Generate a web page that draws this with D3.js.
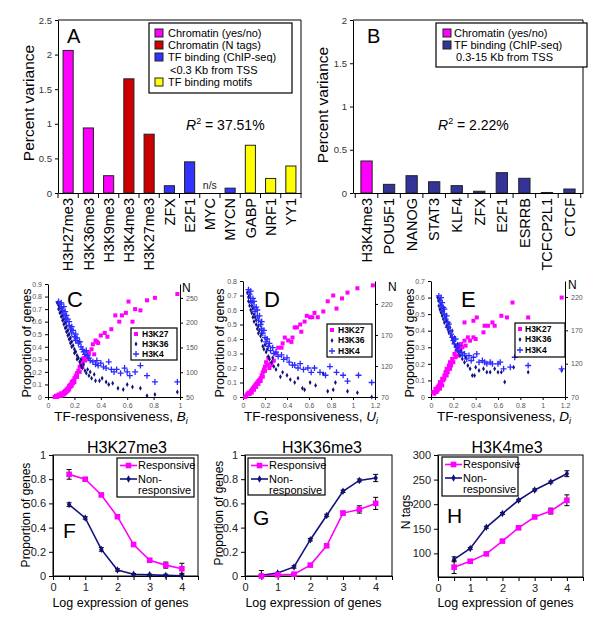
<!DOCTYPE html>
<html><head><meta charset="utf-8">
<script src="https://cdn.jsdelivr.net/npm/d3@7"></script>
<style>body{margin:0;background:#fff} text{font-family:"Liberation Sans",Arial,sans-serif}</style>
</head><body><svg id="c" width="600" height="626"></svg>
<script>
// ---------- Panel A ----------
const aCategories = ["H3H27me3","H3K36me3","H3K9me3","H3K4me3","H3K27me3","ZFX","E2F1","MYC","MYCN","GABP","NRF1","YY1"];
const aValues = [2.06,0.94,0.25,1.65,0.85,0.105,0.45,null,0.07,0.69,0.21,0.39];
const aGroups = [0,0,0,1,1,2,2,2,2,3,3,3];
const aLegend = ["Chromatin (yes/no)","Chromatin (N tags)","TF binding (ChIP-seq)","TF binding motifs"];
const aYTicks = [0,0.5,1,1.5,2,2.5];
// ---------- Panel B ----------
const bCategories = ["H3K4me3","POU5F1","NANOG","STAT3","KLF4","ZFX","E2F1","ESRRB","TCFCP2L1","CTCF"];
const bValues = [0.37,0.10,0.20,0.13,0.085,0.02,0.235,0.17,0.006,0.046];
const bGroups = [0,1,1,1,1,1,1,1,1,1];
const bLegend = ["Chromatin (yes/no)","TF binding (ChIP-seq)"];
const bYTicks = [0,0.5,1,1.5,2];
// ---------- Scatter C (x = B_i) ----------
const cK27 = [[0.05,0.00],[0.06,0.01],[0.07,0.00],[0.08,0.02],[0.09,0.01],[0.10,0.03],[0.10,0.01],[0.11,0.02],[0.12,0.04],[0.12,0.02],[0.13,0.05],[0.13,0.03],[0.14,0.06],[0.14,0.04],[0.15,0.07],[0.15,0.05],[0.16,0.09],[0.16,0.06],[0.17,0.10],[0.17,0.08],[0.18,0.12],[0.18,0.09],[0.19,0.13],[0.19,0.11],[0.20,0.15],[0.20,0.12],[0.21,0.17],[0.22,0.19],[0.22,0.16],[0.23,0.21],[0.24,0.24],[0.24,0.20],[0.25,0.26],[0.26,0.28],[0.26,0.24],[0.27,0.31],[0.28,0.29],[0.29,0.33],[0.30,0.31],[0.31,0.35],[0.33,0.38],[0.35,0.34],[0.34,0.42],[0.36,0.45],[0.38,0.43],[0.40,0.49],[0.43,0.51],[0.45,0.48],[0.48,0.54],[0.37,0.44],[0.51,0.65],[0.54,0.60],[0.56,0.65],[0.59,0.67],[0.61,0.76],[0.64,0.60],[0.66,0.70],[0.70,0.69],[0.75,0.77],[0.81,0.79],[0.98,0.82]];
const cK36 = [[0.07,0.75],[0.08,0.73],[0.08,0.70],[0.09,0.71],[0.09,0.67],[0.10,0.68],[0.10,0.64],[0.11,0.65],[0.11,0.61],[0.12,0.62],[0.12,0.58],[0.13,0.59],[0.13,0.55],[0.14,0.56],[0.14,0.52],[0.15,0.53],[0.15,0.49],[0.16,0.50],[0.16,0.46],[0.17,0.47],[0.17,0.43],[0.18,0.44],[0.18,0.40],[0.19,0.41],[0.20,0.38],[0.20,0.35],[0.21,0.36],[0.22,0.33],[0.22,0.30],[0.23,0.31],[0.24,0.28],[0.25,0.30],[0.25,0.25],[0.26,0.23],[0.27,0.26],[0.28,0.21],[0.29,0.19],[0.30,0.22],[0.31,0.17],[0.32,0.20],[0.33,0.15],[0.35,0.18],[0.36,0.13],[0.39,0.13],[0.41,0.15],[0.44,0.12],[0.46,0.10],[0.49,0.11],[0.53,0.07],[0.57,0.06],[0.60,0.10],[0.64,0.08],[0.70,0.07],[0.75,0.01],[0.81,0.02],[0.98,0.04]];
const cK4 = [[0.08,0.76],[0.09,0.74],[0.10,0.71],[0.10,0.75],[0.11,0.69],[0.12,0.72],[0.12,0.66],[0.13,0.68],[0.13,0.63],[0.14,0.65],[0.14,0.60],[0.15,0.62],[0.16,0.57],[0.16,0.60],[0.17,0.54],[0.18,0.56],[0.18,0.51],[0.19,0.53],[0.20,0.48],[0.21,0.50],[0.21,0.45],[0.22,0.47],[0.23,0.43],[0.24,0.44],[0.25,0.40],[0.26,0.38],[0.27,0.36],[0.28,0.34],[0.29,0.37],[0.30,0.33],[0.31,0.31],[0.32,0.29],[0.34,0.28],[0.36,0.26],[0.37,0.29],[0.38,0.25],[0.40,0.27],[0.42,0.24],[0.44,0.23],[0.46,0.28],[0.48,0.22],[0.50,0.20],[0.52,0.22],[0.55,0.19],[0.58,0.23],[0.60,0.20],[0.62,0.17],[0.66,0.20],[0.70,0.25],[0.75,0.17],[0.81,0.12],[0.98,0.12]];
const cXTicks = [0,0.2,0.4,0.6,0.8,1];
const cYTicks = [0,0.1,0.2,0.3,0.4,0.5,0.6,0.7,0.8,0.9];
const cNTicks = [50,100,150,200,250];
// ---------- Scatter D (x = U_i) ----------
const dK27 = [[0.02,0.00],[0.03,0.01],[0.04,0.02],[0.05,0.03],[0.06,0.02],[0.07,0.04],[0.08,0.05],[0.08,0.03],[0.09,0.06],[0.10,0.07],[0.10,0.05],[0.11,0.08],[0.12,0.09],[0.12,0.07],[0.13,0.10],[0.14,0.11],[0.14,0.09],[0.15,0.12],[0.16,0.13],[0.16,0.11],[0.17,0.15],[0.18,0.17],[0.18,0.14],[0.19,0.19],[0.20,0.21],[0.20,0.18],[0.21,0.24],[0.22,0.22],[0.23,0.27],[0.24,0.20],[0.25,0.23],[0.26,0.22],[0.28,0.25],[0.30,0.30],[0.32,0.34],[0.35,0.34],[0.36,0.37],[0.38,0.41],[0.41,0.39],[0.44,0.38],[0.45,0.41],[0.47,0.48],[0.49,0.48],[0.52,0.50],[0.53,0.45],[0.56,0.52],[0.58,0.56],[0.61,0.55],[0.63,0.55],[0.65,0.58],[0.68,0.55],[0.73,0.59],[0.77,0.66],[0.82,0.70],[0.85,0.61],[0.90,0.68],[0.95,0.72],[1.04,0.75],[1.18,0.77]];
const dK36 = [[0.04,0.72],[0.05,0.69],[0.05,0.66],[0.06,0.70],[0.06,0.63],[0.07,0.66],[0.07,0.60],[0.08,0.63],[0.08,0.58],[0.09,0.61],[0.09,0.55],[0.10,0.57],[0.10,0.52],[0.11,0.55],[0.12,0.50],[0.12,0.53],[0.13,0.47],[0.14,0.49],[0.14,0.44],[0.15,0.46],[0.16,0.42],[0.17,0.44],[0.17,0.39],[0.18,0.35],[0.19,0.33],[0.20,0.36],[0.21,0.31],[0.22,0.33],[0.23,0.28],[0.24,0.26],[0.26,0.24],[0.27,0.27],[0.28,0.21],[0.30,0.19],[0.32,0.22],[0.34,0.14],[0.36,0.17],[0.40,0.15],[0.43,0.12],[0.47,0.10],[0.50,0.13],[0.54,0.06],[0.56,0.05],[0.61,0.10],[0.66,0.08],[0.73,0.16],[0.77,0.04],[0.82,0.05],[0.84,0.10],[0.95,0.04],[1.04,0.03],[1.17,0.00]];
const dK4 = [[0.05,0.74],[0.06,0.71],[0.07,0.68],[0.07,0.73],[0.08,0.65],[0.09,0.68],[0.10,0.62],[0.10,0.66],[0.11,0.59],[0.12,0.62],[0.13,0.56],[0.13,0.60],[0.14,0.53],[0.15,0.56],[0.16,0.50],[0.17,0.47],[0.17,0.52],[0.18,0.44],[0.19,0.46],[0.20,0.41],[0.21,0.38],[0.22,0.40],[0.23,0.35],[0.24,0.37],[0.25,0.32],[0.27,0.34],[0.28,0.30],[0.30,0.31],[0.32,0.28],[0.35,0.29],[0.37,0.26],[0.40,0.27],[0.42,0.24],[0.45,0.22],[0.47,0.22],[0.50,0.20],[0.52,0.23],[0.55,0.19],[0.59,0.20],[0.62,0.17],[0.65,0.20],[0.70,0.17],[0.75,0.15],[0.79,0.21],[0.85,0.17],[0.91,0.15],[0.95,0.11],[1.05,0.15],[1.17,0.10]];
const dXTicks = [0,0.2,0.4,0.6,0.8,1,1.2];
const dYTicks = [0,0.1,0.2,0.3,0.4,0.5,0.6,0.7,0.8];
const dNTicks = [70,120,170,220];
// ---------- Scatter E (x = D_i) ----------
const eK27 = [[0.02,0.03],[0.03,0.02],[0.04,0.05],[0.05,0.03],[0.06,0.06],[0.06,0.04],[0.07,0.07],[0.08,0.05],[0.08,0.09],[0.09,0.08],[0.10,0.11],[0.10,0.07],[0.11,0.10],[0.12,0.13],[0.12,0.11],[0.13,0.15],[0.14,0.13],[0.14,0.17],[0.15,0.15],[0.16,0.19],[0.17,0.17],[0.17,0.21],[0.18,0.19],[0.19,0.23],[0.20,0.21],[0.21,0.26],[0.22,0.24],[0.23,0.28],[0.24,0.25],[0.25,0.30],[0.26,0.28],[0.27,0.32],[0.28,0.30],[0.30,0.34],[0.31,0.31],[0.33,0.36],[0.35,0.34],[0.38,0.36],[0.40,0.35],[0.30,0.45],[0.38,0.46],[0.41,0.48],[0.47,0.39],[0.48,0.43],[0.51,0.43],[0.55,0.45],[0.57,0.43],[0.63,0.49],[0.68,0.48],[0.73,0.57],[0.87,0.48],[1.17,0.60]];
const eK36 = [[0.06,0.60],[0.07,0.58],[0.07,0.55],[0.08,0.59],[0.08,0.53],[0.09,0.56],[0.09,0.51],[0.10,0.54],[0.10,0.49],[0.11,0.52],[0.11,0.47],[0.12,0.50],[0.12,0.45],[0.13,0.48],[0.14,0.43],[0.14,0.46],[0.15,0.41],[0.16,0.44],[0.16,0.39],[0.17,0.42],[0.18,0.37],[0.19,0.40],[0.19,0.35],[0.20,0.33],[0.21,0.36],[0.22,0.31],[0.23,0.29],[0.24,0.32],[0.25,0.27],[0.26,0.25],[0.27,0.28],[0.28,0.23],[0.30,0.21],[0.31,0.24],[0.33,0.19],[0.35,0.17],[0.37,0.13],[0.39,0.13],[0.40,0.18],[0.43,0.16],[0.47,0.17],[0.50,0.15],[0.53,0.15],[0.57,0.17],[0.60,0.15],[0.63,0.15],[0.66,0.09],[0.74,0.18],[0.87,0.15],[1.17,0.16]];
const eK4 = [[0.07,0.61],[0.08,0.58],[0.09,0.60],[0.09,0.55],[0.10,0.57],[0.10,0.52],[0.11,0.54],[0.12,0.50],[0.12,0.53],[0.13,0.47],[0.14,0.49],[0.15,0.45],[0.15,0.42],[0.16,0.44],[0.17,0.40],[0.18,0.38],[0.19,0.36],[0.20,0.34],[0.21,0.32],[0.22,0.35],[0.23,0.30],[0.24,0.28],[0.25,0.31],[0.27,0.27],[0.28,0.25],[0.30,0.26],[0.32,0.23],[0.34,0.25],[0.36,0.22],[0.38,0.24],[0.41,0.26],[0.43,0.21],[0.46,0.22],[0.48,0.21],[0.50,0.20],[0.53,0.21],[0.55,0.20],[0.60,0.20],[0.62,0.21],[0.65,0.17],[0.71,0.18],[0.75,0.24],[0.87,0.19],[1.17,0.17]];
const eXTicks = [0,0.2,0.4,0.6,0.8,1,1.2];
const eYTicks = [0,0.1,0.2,0.3,0.4,0.5,0.6,0.7];
const eNTicks = [70,120,170,220];
const scatterLegend = ["H3K27","H3K36","H3K4"];
// ---------- Line panels F, G, H ----------
const logExpr = [0.5,1,1.5,2,2.5,3,3.5,4];
const lineXTicks = [0,0.5,1,1.5,2,2.5,3,3.5,4,4.5];
const fResp = [0.84,0.80,0.67,0.49,0.26,0.13,0.09,0.06];
const fRespErr = [0.04,0.01,0.01,0.01,0.01,0.015,0.025,0.045];
const fNon = [0.59,0.48,0.22,0.05,0.015,0.01,0.005,0.002];
const fNonErr = [0.015,0.01,0.015,0.01,0.005,0.005,0.01,0.02];
const gResp = [0.00,0.01,0.015,0.09,0.25,0.52,0.55,0.60];
const gRespErr = [0.01,0.005,0.005,0.01,0.01,0.015,0.03,0.05];
const gNon = [0.005,0.025,0.075,0.30,0.50,0.70,0.79,0.81];
const gNonErr = [0.04,0.005,0.01,0.01,0.01,0.01,0.012,0.03];
const hResp = [72,84,99,125,152,174,186,208];
const hRespErr = [13,3,2,2,2,3,6,11];
const hNon = [88,110,153,181,208,229,245,262];
const hNonErr = [5,2,2,2,2,2,2,6];
const propTicks = [0,0.2,0.4,0.6,0.8,1];
const tagTicks = [100,150,200,250,300];

const FONT = '"Liberation Sans", Arial, sans-serif';
const MAG = "#ff00ff", NAVY = "#12127e", BLUE = "#2a2aff";
const svg = d3.select("#c");
svg.append("rect").attr("width",600).attr("height",626).attr("fill","#fff");

function styleAxis(sel, fs, fill){
  sel.attr("font-family",FONT);
  sel.select(".domain").attr("stroke","#000");
  sel.selectAll(".tick line").attr("stroke","#000");
  sel.selectAll(".tick text").attr("font-size",fs).attr("fill",fill);
}

// ================= BAR PANELS =================
function barPanel(c){
  const x = d3.scaleBand().domain(c.cats).range([c.x0,c.x1]).paddingInner(0.5).paddingOuter(c.po);
  const y = d3.scaleLinear().domain([0,c.ymax]).range([193,20]);
  const g = svg.append("g");
  g.append("path").attr("d",`M${c.x0},20H${c.x1}V193`).attr("fill","none").attr("stroke","#000");
  const data = c.cats.map((k,i)=>({k,v:c.vals[i],grp:c.groups[i]}));
  g.selectAll("rect.bar").data(data.filter(d=>d.v!=null)).join("rect")
    .attr("x",d=>x(d.k)).attr("width",x.bandwidth())
    .attr("y",d=>y(d.v)).attr("height",d=>y(0)-y(d.v))
    .attr("fill",d=>c.colors[d.grp]).attr("stroke","#222").attr("stroke-width",1);
  data.filter(d=>d.v==null).forEach(d=>{
    g.append("text").attr("x",x(d.k)+x.bandwidth()/2).attr("y",y(0)-4).attr("text-anchor","middle")
     .attr("font-size",10.5).attr("fill","#222").text("n/s");
  });
  g.append("g").attr("transform","translate("+c.x0+",0)")
   .call(d3.axisLeft(y).tickValues(c.yticks).tickSize(3).tickSizeOuter(0).tickFormat(d3.format("~g")))
   .call(s=>styleAxis(s,9.5,"#333"));
  const xa = g.append("g").attr("transform","translate(0,193)")
   .call(d3.axisBottom(x).tickSize(0).tickSizeOuter(0));
  styleAxis(xa,14.5,"#000");
  xa.selectAll(".tick text").attr("transform","rotate(-90)").attr("x",-5).attr("y",0)
    .attr("dy","0.36em").attr("text-anchor","end");
  const gap = x.step()-x.bandwidth();
  const bounds = c.cats.map(k=>x(k)-gap/2).concat([x(c.cats[c.cats.length-1])+x.bandwidth()+gap/2]);
  g.selectAll("line.bt").data(bounds).join("line").attr("x1",d=>d).attr("x2",d=>d)
   .attr("y1",193).attr("y2",198).attr("stroke","#000");
  g.append("text").attr("transform",`translate(${c.ylx},${c.yly}) rotate(-90)`).attr("text-anchor","middle")
   .attr("dy","0.35em").attr("font-size",15.5).text("Percent variance");
  g.append("text").attr("x",c.lx).attr("y",43).attr("font-size",20).text(c.letter);
  const r = g.append("text").attr("x",c.rx).attr("y",130).attr("font-size",14);
  r.append("tspan").attr("font-style","italic").text("R");
  r.append("tspan").attr("font-size",9).attr("dy",-6).text("2");
  r.append("tspan").attr("dy",6).text(" = "+c.r2);
  const L = c.legend;
  g.append("rect").attr("x",L.x0).attr("y",L.y0).attr("width",L.x1-L.x0).attr("height",L.y1-L.y0)
   .attr("fill","#fff").attr("stroke","#000").attr("stroke-width",1.2);
  L.rows.forEach(row=>{
    if(row.color!=null){
      g.append("rect").attr("x",L.sx).attr("y",row.y-4).attr("width",8).attr("height",8)
       .attr("fill",c.colors[row.color]).attr("stroke","#222");
    }
    g.append("text").attr("x",row.color!=null?L.tx:L.tx+2).attr("y",row.y).attr("dy","0.35em")
     .attr("font-size",11).text(row.text);
  });
}

const aColors = ["#ff00ff","#cc0000","#3333ff","#ffff00"];
barPanel({cats:aCategories, vals:aValues, groups:aGroups, colors:aColors, x0:58, x1:301, po:0.25,
  ymax:2.5, yticks:aYTicks, ylx:29, yly:103, lx:67, letter:"A", rx:186, r2:"37.51%",
  legend:{x0:149,y0:23,x1:292,y1:93,sx:155,tx:168,rows:[
    {color:0,text:aLegend[0],y:33},{color:1,text:aLegend[1],y:45},{color:2,text:aLegend[2],y:57},
    {color:null,text:"<0.3 Kb from TSS",y:70},{color:3,text:aLegend[3],y:82}]}});
const bColors = ["#ff00ff","#333399"];
barPanel({cats:bCategories, vals:bValues, groups:bGroups, colors:bColors, x0:353, x1:583, po:0.35,
  ymax:2, yticks:bYTicks, ylx:323, yly:105, lx:367, letter:"B", rx:438, r2:"2.22%",
  legend:{x0:436,y0:23,x1:587,y1:67,sx:443,tx:454,rows:[
    {color:0,text:bLegend[0],y:33},{color:1,text:bLegend[1],y:45},
    {color:null,text:"0.3-15 Kb from TSS",y:57}]}});

// ================= SCATTER PANELS =================
function marker(g, kind, cx, cy){
  if(kind===0) g.append("rect").attr("x",cx-2).attr("y",cy-2).attr("width",4).attr("height",4).attr("fill",MAG);
  else if(kind===1) g.append("path").attr("transform",`translate(${cx},${cy})`).attr("d",d3.symbol(d3.symbolDiamond,7)()).attr("fill",NAVY);
  else g.append("path").attr("transform",`translate(${cx},${cy})`).attr("d","M-3,0H3M0,-3V3").attr("stroke",BLUE).attr("stroke-width",1.3);
}
function scatterPanel(c){
  const yb = 397;
  const x = d3.scaleLinear().domain([0,c.xmax]).range([c.x0,c.x1]);
  const y = d3.scaleLinear().domain([0,c.ymax]).range([yb,c.yTop]);
  const yr = d3.scaleLinear().domain(c.rdom).range([yb,c.yTop]);
  const g = svg.append("g");
  g.append("g").attr("transform",`translate(0,${yb})`)
   .call(d3.axisBottom(x).tickValues(c.xticks).tickSize(3).tickSizeOuter(0).tickFormat(d3.format("~g")))
   .call(s=>styleAxis(s,7,"#555"));
  g.append("g").attr("transform",`translate(${c.x0},0)`)
   .call(d3.axisLeft(y).tickValues(c.yticks).tickSize(3).tickSizeOuter(0).tickFormat(d3.format("~g")))
   .call(s=>styleAxis(s,7,"#555"));
  g.append("g").attr("transform",`translate(${c.x1},0)`)
   .call(d3.axisRight(yr).tickValues(c.rticks).tickSize(3).tickSizeOuter(0))
   .call(s=>styleAxis(s,7,"#555"));
  const pts = g.append("g");
  c.series.forEach((arr,k)=>arr.forEach(p=>marker(pts,k,x(p[0]),y(p[1]))));
  const L = c.legend;
  g.append("rect").attr("x",L.x0).attr("y",L.y0).attr("width",L.x1-L.x0).attr("height",L.y1-L.y0)
   .attr("fill","#fff").attr("stroke","#000").attr("stroke-width",1.2);
  scatterLegend.forEach((t,k)=>{
    marker(g,k,L.mx,L.ys[k]);
    g.append("text").attr("x",L.tx).attr("y",L.ys[k]).attr("dy","0.35em").attr("font-size",8.5)
     .attr("font-weight","bold").text(t);
  });
  g.append("text").attr("x",c.lx).attr("y",307).attr("font-size",22).text(c.letter);
  g.append("text").attr("x",c.nx).attr("y",c.ny).attr("font-size",12).text("N");
  g.append("text").attr("transform",`translate(${c.ylx},343) rotate(-90)`).attr("text-anchor","middle")
   .attr("dy","0.35em").attr("font-size",12.5).text("Proportion of genes");
  const xl = g.append("text").attr("x",c.xlx).attr("y",421).attr("text-anchor","middle").attr("font-size",13.5);
  xl.append("tspan").text("TF-responsiveness, ");
  xl.append("tspan").attr("font-style","italic").text(c.sym);
  xl.append("tspan").attr("font-style","italic").attr("font-size",9).attr("dy",3).text("i");
}
scatterPanel({x0:48,x1:180,xmax:1,yTop:284,ymax:0.9,rdom:[50,278],xticks:cXTicks,yticks:cYTicks,rticks:cNTicks,
  series:[cK27,cK36,cK4],legend:{x0:131,y0:328,x1:177,y1:360,mx:136,tx:142,ys:[334,344,354]},
  lx:67,letter:"C",nx:182,ny:292,ylx:27,xlx:121,sym:"B"});
scatterPanel({x0:243,x1:375,xmax:1.2,yTop:281,ymax:0.8,rdom:[70,257],xticks:dXTicks,yticks:dYTicks,rticks:dNTicks,
  series:[dK27,dK36,dK4],legend:{x0:327,y0:324,x1:372,y1:357,mx:332,tx:338,ys:[330,340.5,351]},
  lx:264,letter:"D",nx:388,ny:291,ylx:220,xlx:311,sym:"U"});
scatterPanel({x0:431,x1:565,xmax:1.2,yTop:281,ymax:0.7,rdom:[70,244],xticks:eXTicks,yticks:eYTicks,rticks:eNTicks,
  series:[eK27,eK36,eK4],legend:{x0:515,y0:323,x1:565,y1:357,mx:520,tx:525,ys:[329,339.5,350]},
  lx:461,letter:"E",nx:568,ny:289,ylx:410,xlx:504,sym:"D"});

// ================= LINE PANELS =================
function linePanel(c){
  const x = d3.scaleLinear().domain([0,4.5]).range([c.x0,c.x1]);
  const y = d3.scaleLinear().domain(c.ydom).range([c.yb,455]);
  const g = svg.append("g");
  g.append("rect").attr("x",c.x0).attr("y",455).attr("width",c.x1-c.x0).attr("height",c.yb-455)
   .attr("fill","none").attr("stroke","#000");
  g.append("g").attr("transform",`translate(0,${c.yb})`)
   .call(d3.axisBottom(x).tickValues(lineXTicks).tickSize(4).tickSizeOuter(0)
     .tickFormat(d=>Number.isInteger(d)&&d<=4?d:""))
   .call(s=>styleAxis(s,11,"#222"));
  g.append("g").attr("transform",`translate(${c.x0},0)`)
   .call(d3.axisLeft(y).tickValues(c.yticks).tickSize(4).tickSizeOuter(0).tickFormat(d3.format("~g")))
   .call(s=>styleAxis(s,11,"#222"));
  const series = [{v:c.non,e:c.nonErr,col:NAVY,k:1},{v:c.resp,e:c.respErr,col:MAG,k:0}];
  series.forEach(s=>{
    const pts = logExpr.map((xv,i)=>({x:xv,v:s.v[i],e:s.e[i]}));
    g.append("path").datum(pts).attr("d",d3.line().x(d=>x(d.x)).y(d=>y(d.v)))
     .attr("fill","none").attr("stroke",s.col).attr("stroke-width",1.6);
    pts.forEach(d=>{
      const lo = Math.max(y.domain()[0],d.v-d.e), hi = d.v+d.e;
      g.append("line").attr("x1",x(d.x)).attr("x2",x(d.x)).attr("y1",y(lo)).attr("y2",y(hi)).attr("stroke","#000");
      [lo,hi].forEach(b=>g.append("line").attr("x1",x(d.x)-2.5).attr("x2",x(d.x)+2.5).attr("y1",y(b)).attr("y2",y(b)).attr("stroke","#000"));
    });
    pts.forEach(d=>{
      if(s.k===0) g.append("rect").attr("x",x(d.x)-2.8).attr("y",y(d.v)-2.8).attr("width",5.6).attr("height",5.6).attr("fill",MAG);
      else g.append("path").attr("transform",`translate(${x(d.x)},${y(d.v)})`).attr("d",d3.symbol(d3.symbolDiamond,16)()).attr("fill",NAVY);
    });
  });
  const L = c.legend;
  g.append("rect").attr("x",L.x0).attr("y",L.y0).attr("width",L.x1-L.x0).attr("height",L.y1-L.y0)
   .attr("fill","#fff").attr("stroke","#000").attr("stroke-width",1.2);
  const ly1 = L.y0+7.5, ly2 = L.y0+21;
  g.append("line").attr("x1",L.x0+3).attr("x2",L.x0+20).attr("y1",ly1).attr("y2",ly1).attr("stroke",MAG).attr("stroke-width",1.6);
  g.append("rect").attr("x",L.x0+11.5-2.8).attr("y",ly1-2.8).attr("width",5.6).attr("height",5.6).attr("fill",MAG);
  g.append("line").attr("x1",L.x0+3).attr("x2",L.x0+20).attr("y1",ly2).attr("y2",ly2).attr("stroke",NAVY).attr("stroke-width",1.6);
  g.append("path").attr("transform",`translate(${L.x0+11.5},${ly2})`).attr("d",d3.symbol(d3.symbolDiamond,16)()).attr("fill",NAVY);
  g.append("text").attr("x",L.x0+21).attr("y",ly1).attr("dy","0.35em").attr("font-size",11).text("Responsive");
  g.append("text").attr("x",L.x0+21).attr("y",ly2).attr("dy","0.35em").attr("font-size",11).text("Non-");
  g.append("text").attr("x",L.x0+21).attr("y",ly2+11).attr("dy","0.35em").attr("font-size",11).text("responsive");
  g.append("text").attr("x",c.tx).attr("y",453).attr("text-anchor","middle").attr("font-size",16).text(c.title);
  g.append("text").attr("x",c.lx).attr("y",c.ly).attr("font-size",21).text(c.letter);
  g.append("text").attr("x",(c.x0+c.x1)/2-5).attr("y",607).attr("text-anchor","middle").attr("font-size",12.5).text("Log expression of genes");
  g.append("text").attr("transform",`translate(${c.ylx},${c.yly}) rotate(-90)`).attr("text-anchor","middle")
   .attr("dy","0.35em").attr("font-size",12).text(c.ylabel);
}
linePanel({x0:53,x1:198,yb:576,ydom:[0,1],yticks:propTicks,resp:fResp,respErr:fRespErr,non:fNon,nonErr:fNonErr,
  legend:{x0:117,y0:458,x1:194,y1:497},tx:127,title:"H3K27me3",lx:63,ly:538,letter:"F",ylx:26,yly:515,ylabel:"Proportion of genes"});
linePanel({x0:245,x1:392,yb:576,ydom:[0,1],yticks:propTicks,resp:gResp,respErr:gRespErr,non:gNon,nonErr:gNonErr,
  legend:{x0:248,y0:458,x1:325,y1:495},tx:322,title:"H3K36me3",lx:253,ly:525,letter:"G",ylx:219,yly:513,ylabel:"Proportion of genes"});
linePanel({x0:438,x1:583,yb:577,ydom:[52,300],yticks:tagTicks,resp:hResp,respErr:hRespErr,non:hNon,nonErr:hNonErr,
  legend:{x0:442,y0:457,x1:518,y1:496},tx:507,title:"H3K4me3",lx:447,ly:523,letter:"H",ylx:406,yly:512,ylabel:"N tags"});
</script></body></html>
